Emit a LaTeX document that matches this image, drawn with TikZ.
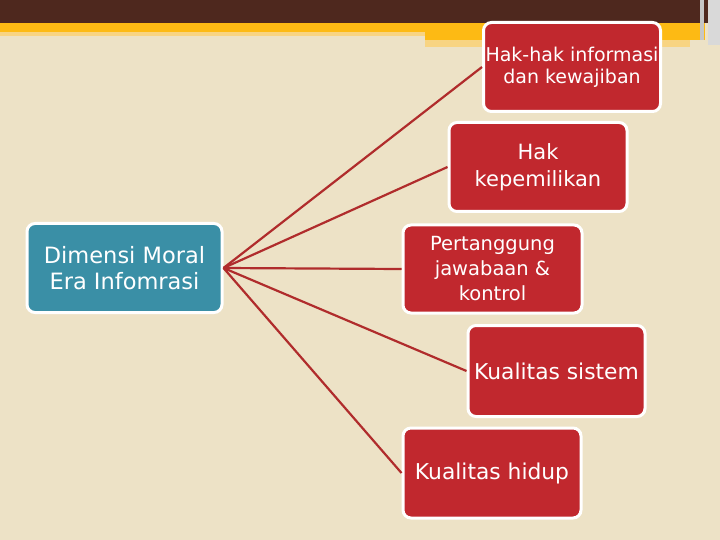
\documentclass[tikz,border=0pt]{standalone}
\usepackage{fontspec}
\setmainfont{DejaVu Sans}
\usepackage{tikz}
\definecolor{slidebg}{RGB}{237,226,198}
\definecolor{bandbrown}{RGB}{78,40,30}
\definecolor{bandyellow}{RGB}{253,186,20}
\definecolor{bandlight}{RGB}{248,212,130}
\definecolor{boxred}{RGB}{193,40,46}
\definecolor{boxteal}{RGB}{58,143,166}
\definecolor{linkred}{RGB}{176,44,44}
\tikzstyle{topic} = [rectangle, rounded corners=8pt, align=center, draw=white, line width=3pt, fill=boxred, text=white, inner sep=1pt, minimum width=177pt, minimum height=89pt]
\tikzstyle{root} = [topic, fill=boxteal, minimum width=195pt]
\tikzstyle{link} = [draw=linkred, line width=2.2pt]

\begin{document}
\begin{tikzpicture}[x=1pt, y=-1pt]
    % slide background
    \fill[slidebg] (0,0) rectangle (720,540);
    \fill[bandbrown] (0,0) rectangle (720,23);
    \fill[bandyellow] (0,23) rectangle (705,32);
    \fill[bandyellow] (425,32) rectangle (705,40);
    \fill[bandlight] (0,32) rectangle (425,36);
    \fill[bandlight] (425,40) rectangle (690,47);
    \fill[gray!45] (700,0) rectangle (704,40);
    \fill[gray!30] (708,0) rectangle (720,45);

    \node (dimensi) [root, font=\fontsize{22.5}{26}\selectfont] at (124.5,268) {Dimensi Moral\\Era Infomrasi};
    \node (hakinfo) [topic, font=\fontsize{19}{22}\selectfont] at (572,67) {Hak-hak informasi\\dan kewajiban};
    \node (milik) [topic, minimum width=178pt, font=\fontsize{21}{27}\selectfont] at (538,167) {Hak\\kepemilikan};
    \node (tanggung) [topic, minimum width=179pt, minimum height=88pt, font=\fontsize{19.5}{25}\selectfont] at (492.5,269) {Pertanggung\\jawabaan \&\\kontrol};
    \node (sistem) [topic, minimum height=91pt, font=\fontsize{21.8}{26}\selectfont] at (556.5,371) {Kualitas sistem};
    \node (hidup) [topic, minimum width=178pt, minimum height=90pt, font=\fontsize{21.8}{26}\selectfont] at (492,473) {Kualitas hidup};

    \draw [link] (dimensi.east) -- (hakinfo.west);
    \draw [link] (dimensi.east) -- (milik.west);
    \draw [link] (dimensi.east) -- (tanggung.west);
    \draw [link] (dimensi.east) -- (sistem.west);
    \draw [link] (dimensi.east) -- (hidup.west);
\end{tikzpicture}
\end{document}
